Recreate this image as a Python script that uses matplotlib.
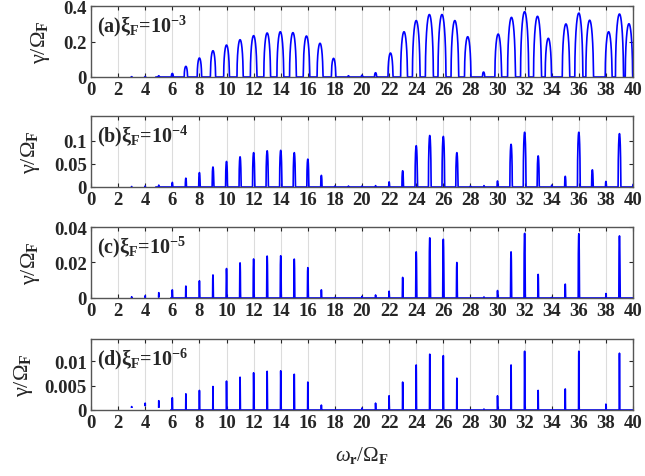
import numpy as np
import matplotlib
matplotlib.use('Agg')
import matplotlib.pyplot as plt

plt.rcParams['font.family'] = ['Liberation Serif', 'DejaVu Serif']
plt.rcParams['mathtext.fontset'] = 'custom'
plt.rcParams['mathtext.rm'] = 'Liberation Serif'
plt.rcParams['mathtext.it'] = 'Liberation Serif:italic'
plt.rcParams['mathtext.bf'] = 'Liberation Serif:bold'

# peak positions (omega_r / Omega_F)
orders = list(range(1, 41))
# in panel (a) the broad tongues drift a little off the integers
pos_a = [1, 2, 3, 4, 5, 6, 7, 8, 9, 10,
         11, 12, 13, 13.97, 14.9, 15.9, 16.9, 17.9, 19, 20,
         21, 22.1, 23.1, 24, 24.97, 25.9, 26.85, 27.8, 28.97, 30.05,
         31.03, 32, 32.95, 33.75, 35.05, 36, 36.8, 38.2, 39, 39.7, 40.28]

# peak heights, orders 1..40 (panel a has one more at the edge)
h_a = [0, 0, 0.002, 0.003, 0.007, 0.02, 0.06, 0.107, 0.148, 0.18,
       0.21, 0.233, 0.248, 0.255, 0.25, 0.231, 0.19, 0.105, 0.007, 0.01,
       0.024, 0.135, 0.255, 0.318, 0.352, 0.352, 0.318, 0.227, 0.028, 0.242,
       0.336, 0.368, 0.342, 0.218, 0.299, 0.36, 0.32, 0.255, 0.355, 0.30, 0.30]
h_b = [0, 0, 0.001, 0.002, 0.004, 0.01, 0.019, 0.031, 0.043, 0.055,
       0.065, 0.074, 0.078, 0.079, 0.074, 0.06, 0.025, 0.002, 0.002, 0.002,
       0.003, 0.011, 0.035, 0.089, 0.111, 0.109, 0.074, 0.002, 0.003, 0.013,
       0.092, 0.118, 0.067, 0.004, 0.023, 0.118, 0.037, 0.012, 0.115, 0.005]
h_c = [0, 0, 0.0007, 0.0013, 0.003, 0.0046, 0.0067, 0.0097, 0.013, 0.0166,
       0.0198, 0.022, 0.0236, 0.0238, 0.0219, 0.0171, 0.0046, 0.0003, 0, 0.0009,
       0.0017, 0.0038, 0.0116, 0.026, 0.0339, 0.0331, 0.02, 0, 0.0006, 0.0042,
       0.026, 0.0364, 0.0133, 0.0003, 0.0078, 0.0362, 0, 0.0025, 0.035, 0]
h_d = [0.0001, 0, 0.0007, 0.0014, 0.0019, 0.0025, 0.0033, 0.004, 0.0048, 0.0059,
       0.0067, 0.0076, 0.0079, 0.008, 0.0073, 0.0057, 0.001, 0, 0, 0.0004,
       0.0014, 0.0029, 0.0057, 0.0092, 0.0114, 0.0111, 0.0065, 0, 0.0002, 0.0029,
       0.0092, 0.012, 0.004, 0, 0.0043, 0.012, 0, 0.0012, 0.0116, 0]

labels = [r'(a)ξ$_{\mathbf{F}}$=10$^{\mathbf{-3}}$',
          r'(b)ξ$_{\mathbf{F}}$=10$^{\mathbf{-4}}$',
          r'(c)ξ$_{\mathbf{F}}$=10$^{\mathbf{-5}}$',
          r'(d)ξ$_{\mathbf{F}}$=10$^{\mathbf{-6}}$']
ylims = [0.4, 0.153, 0.04, 0.0145]
yticks = [[0, 0.2, 0.4], [0, 0.05, 0.1], [0, 0.02, 0.04], [0, 0.005, 0.01]]
yticklabels = [['0', '0.2', '0.4'], ['0', '0.05', '0.1'],
               ['0', '0.02', '0.04'], ['0', '0.005', '0.01']]
halfw = [0.3, 0.1, 0.045, 0.02]
x_start = [4.8, 4.8, 5.9, 5.9]
ylab_x = [-0.072, -0.09, -0.09, -0.104]


def tongue_curve(x, centers, heights, w, hmax):
    y = np.zeros_like(x)
    for n, h in zip(centers, heights):
        if h <= 0:
            continue
        ww = w * np.sqrt(min(1.0, h / hmax))
        u = 1 - ((x - n) / ww) ** 2
        y = np.maximum(y, h * np.sqrt(np.clip(u, 0, None)))
    return y


fig = plt.figure(figsize=(6.45, 4.77), dpi=100)
bottoms = [0.8365, 0.6059, 0.3732, 0.1384]
x = np.linspace(0, 40, 16001)
ink = '#262626'
centers = [pos_a, orders, orders, orders]

for k, heights in enumerate([h_a, h_b, h_c, h_d]):
    ax = fig.add_axes([0.1411, bottoms[k], 0.8403, 0.1488])
    y = tongue_curve(x, centers[k], heights, halfw[k], max(heights))
    # baseline only drawn from x_start on, as in the original
    y[(x < x_start[k]) & (y <= 0)] = np.nan
    ax.plot(x, y, color='#0000ff', lw=1.2, zorder=3)
    ax.set_xlim(0, 40)
    ax.set_ylim(0, ylims[k])
    ax.set_xticks(range(0, 41, 2))
    ax.set_xticklabels([str(v) for v in range(0, 41, 2)], fontweight='bold')
    ax.set_yticks(yticks[k])
    ax.set_yticklabels(yticklabels[k], fontweight='bold')
    ax.tick_params(direction='in', top=True, right=True, labelsize=13.5,
                   colors=ink, length=3, width=0.8, pad=3)
    ax.grid(axis='x', color='#dcdcdc', lw=0.8, zorder=0)
    for s in ax.spines.values():
        s.set_color('#555555')
        s.set_linewidth(1.0)
        s.set_zorder(4)
    ax.set_ylabel(r'γ/Ω$_{\mathbf{F}}$', fontsize=16, color=ink)
    ax.yaxis.set_label_coords(ylab_x[k], 0.5)
    ax.text(0.011, 0.9, labels[k], transform=ax.transAxes, fontsize=14.5,
            fontweight='bold', va='top', ha='left', color=ink, zorder=5)

ax.set_xlabel(r'$\omega_{\mathbf{r}}$/Ω$_{\mathbf{F}}$', fontsize=15,
              color=ink, labelpad=9)

fig.savefig('out.png', dpi=100)
